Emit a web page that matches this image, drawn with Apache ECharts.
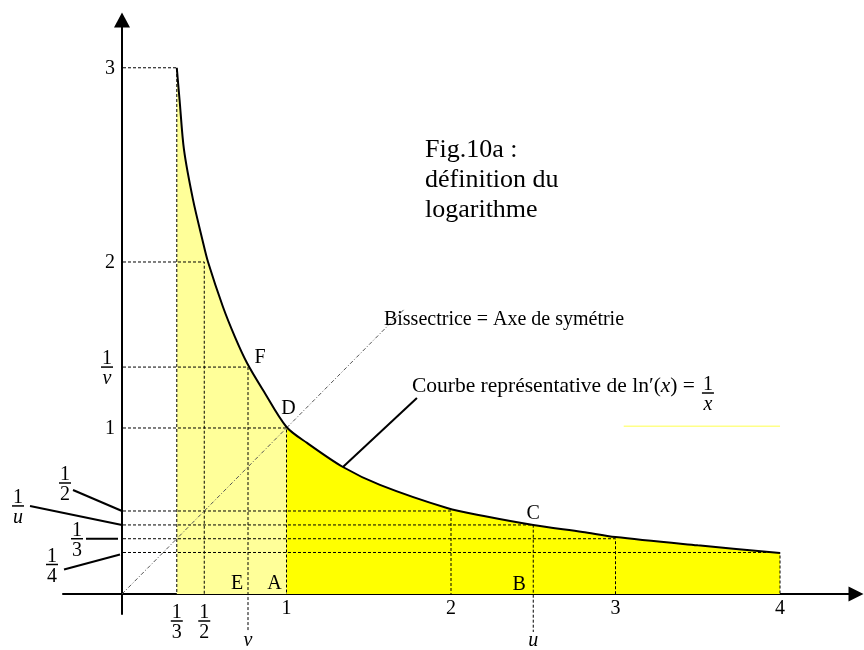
<!DOCTYPE html>
<html>
<head>
<meta charset="utf-8">
<title>Fig.10a : définition du logarithme</title>
<script src="https://cdn.jsdelivr.net/npm/echarts@6/dist/echarts.min.js"></script>
<style>
    html, body { margin: 0; padding: 0; background: #fff; }
    #chart { width: 864px; height: 650px; }
</style>
</head>
<body>
<div id="chart"></div>
<script>
// curve y = 1/x as drawn in the figure
const curveX = [0.333, 0.35, 0.377, 0.432, 0.489, 0.523, 0.614, 0.687, 0.76, 0.857, 1, 1.125, 1.343, 1.568, 1.976, 2.2, 2.5, 2.8, 3, 3.5, 4];
const curveY = [3.17, 2.976, 2.675, 2.374, 2.133, 2.0, 1.729, 1.548, 1.392, 1.229, 1.006, 0.91, 0.765, 0.657, 0.518, 0.47, 0.416, 0.374, 0.343, 0.293, 0.247];

// dashed guide corners (x on the axis, matching y on the curve)
const guideX = [0.333, 0.5, 0.766, 1, 2, 2.5, 3, 4];
const guideY = [3.17, 2.0, 1.367, 1.0, 0.5, 0.416, 0.333, 0.25];

// axis labels
const xTickValues = [0.333, 0.5, 0.766, 1, 2, 2.5, 3, 4];
const xTickLabels = ['1/3', '1/2', 'v', '1', '2', 'u', '3', '4'];
const yTickValues = [3.17, 2.0, 1.367, 1.0];
const yTickLabels = ['3', '2', '1/v', '1'];
const yCalloutValues = [0.5, 0.416, 0.333, 0.25];
const yCalloutLabels = ['1/2', '1/u', '1/3', '1/4'];

// named points
const pointNames = ['F', 'D', 'C', 'E', 'A', 'B'];
const pointX = [0.766, 1, 2.5, 0.766, 1, 2.5];
const pointY = [1.367, 1.0, 0.416, 0, 0, 0];

// bisector y = x and the stray yellow stroke
const bisectorX = [0, 1.72];
const yellowX = [3.05, 4];
const yellowY = [1.01, 1.01];

const SERIF = '"Liberation Serif", "Times New Roman", serif';

function txt(text, x, y, align, vAlign, size, italic) {
    return {
        type: 'text',
        style: {
            text: text, x: x, y: y,
            textAlign: align, textVerticalAlign: vAlign,
            font: (italic ? 'italic ' : '') + size + 'px ' + SERIF,
            fill: '#000'
        }
    };
}

// stacked fraction centred on (cx, cy) = middle of the bar
function frac(label, cx, cy) {
    const parts = label.split('/');
    const italicDen = /[a-z]/.test(parts[1]);
    return {
        type: 'group',
        children: [
            txt(parts[0], cx, cy + 2, 'center', 'bottom', 20, false),
            { type: 'line', shape: { x1: cx - 6, y1: cy, x2: cx + 6, y2: cy }, style: { stroke: '#000', lineWidth: 1.5 } },
            txt(parts[1], cx, cy + 2, 'center', 'top', 20, italicDen)
        ]
    };
}

function seg(x1, y1, x2, y2, w) {
    return { type: 'line', shape: { x1: x1, y1: y1, x2: x2, y2: y2 }, style: { stroke: '#000', lineWidth: w || 2 } };
}

const chart = echarts.init(document.getElementById('chart'));

const curve = curveX.map((x, i) => [x, curveY[i]]);
const leftPart = curve.filter(d => d[0] <= 1);
const rightPart = curve.filter(d => d[0] >= 1);

// layout of the callout labels left of the y axis: [barDx, barDy, leadStartDx, leadStartDy, leadEndDx, leadEndDy]
const calloutLayout = [
    [-57, -28, -49, -21, 0, 0],
    [-104, -19, -92, -19, 0, 0],
    [-45, 0, -36, 0, -4, 0],
    [-70, 12, -58, 17, -2, 2]
];
// text offsets of the named points: [dx, dy]
const pointLayout = [[12, -9], [2, -19], [0, -11], [-11, -10], [-12, -10], [-14, -9]];

const option = {
    animation: false,
    grid: { left: 63, top: 20, width: 793, height: 594 },
    xAxis: {
        type: 'value', min: -0.3587, max: 4.462,
        axisLine: { onZero: true, lineStyle: { color: '#000', width: 2 }, symbol: ['none', 'triangle'], symbolSize: [15, 15] },
        axisTick: { show: false }, axisLabel: { show: false }, splitLine: { show: false }
    },
    yAxis: {
        type: 'value', min: -0.1205, max: 3.4578,
        axisLine: { onZero: true, lineStyle: { color: '#000', width: 2 }, symbol: ['none', 'triangle'], symbolSize: [16, 15] },
        axisTick: { show: false }, axisLabel: { show: false }, splitLine: { show: false }
    },
    graphic: [
        txt('Fig.10a :', 425, 150, 'left', 'middle', 26, false),
        txt('définition du', 425, 180, 'left', 'middle', 26, false),
        txt('logarithme', 425, 210, 'left', 'middle', 26, false)
    ],
    series: [
        {
            name: 'aire 1/3-1', type: 'line', z: 1, data: leftPart, smooth: 0.3,
            showSymbol: false, silent: true, lineStyle: { opacity: 0 },
            areaStyle: { color: '#ffff99', opacity: 1 }
        },
        {
            name: 'aire 1-4', type: 'line', z: 1, data: rightPart, smooth: 0.3,
            showSymbol: false, silent: true, lineStyle: { opacity: 0 },
            areaStyle: { color: '#ffff00', opacity: 1 }
        },
        {
            name: 'repères', type: 'custom', z: 2, silent: true,
            data: guideX.map((x, i) => [x, guideY[i]]),
            renderItem: function (params, api) {
                const i = params.dataIndex;
                const axisPt = api.coord([0, api.value(1)]);
                const corner = api.coord([api.value(0), api.value(1)]);
                const foot = api.coord([api.value(0), 0]);
                const below = /[a-z]/.test(xTickLabels[i]) ? 38 : 0;
                return {
                    type: 'polyline',
                    shape: { points: [[axisPt[0] + 1, axisPt[1]], corner, [foot[0], foot[1] + below]] },
                    style: { stroke: '#000', lineWidth: 1, lineDash: [3, 2], fill: null }
                };
            }
        },
        {
            name: 'bissectrice', type: 'line', z: 3, data: bisectorX.map(v => [v, v]),
            showSymbol: false, silent: true,
            lineStyle: { color: '#555', width: 1, type: [4, 2, 1, 2] }
        },
        {
            name: 'trait jaune', type: 'line', z: 3, data: yellowX.map((x, i) => [x, yellowY[i]]),
            showSymbol: false, silent: true,
            lineStyle: { color: '#ffff88', width: 1.5 }
        },
        {
            name: '1/x', type: 'line', z: 4, data: curve, smooth: 0.3,
            showSymbol: false, silent: true,
            lineStyle: { color: '#000', width: 2 }
        },
        {
            name: 'graduations x', type: 'custom', z: 6, silent: true,
            data: xTickValues.map(v => [v, 0]),
            renderItem: function (params, api) {
                const label = xTickLabels[params.dataIndex];
                const p = api.coord([api.value(0), 0]);
                if (label.indexOf('/') >= 0) return frac(label, p[0], p[1] + 27);
                if (/[a-z]/.test(label)) return txt(label, p[0], p[1] + 47, 'center', 'middle', 20, true);
                return txt(label, p[0], p[1] + 15, 'center', 'middle', 20, false);
            }
        },
        {
            name: 'graduations y', type: 'custom', z: 6, silent: true,
            data: yTickValues.map(v => [0, v]),
            renderItem: function (params, api) {
                const label = yTickLabels[params.dataIndex];
                const p = api.coord([0, api.value(1)]);
                if (label.indexOf('/') >= 0) return frac(label, p[0] - 15, p[1]);
                return txt(label, p[0] - 7, p[1] + 1, 'right', 'middle', 20, false);
            }
        },
        {
            name: 'renvois y', type: 'custom', z: 6, silent: true,
            data: yCalloutValues.map(v => [0, v]),
            renderItem: function (params, api) {
                const i = params.dataIndex;
                const L = calloutLayout[i];
                const p = api.coord([0, api.value(1)]);
                return {
                    type: 'group',
                    children: [
                        seg(p[0] + L[2], p[1] + L[3], p[0] + L[4], p[1] + L[5], 2),
                        frac(yCalloutLabels[i], p[0] + L[0], p[1] + L[1])
                    ]
                };
            }
        },
        {
            name: 'points', type: 'custom', z: 6, silent: true,
            data: pointX.map((x, i) => [x, pointY[i]]),
            renderItem: function (params, api) {
                const i = params.dataIndex;
                const p = api.coord([api.value(0), api.value(1)]);
                return txt(pointNames[i], p[0] + pointLayout[i][0], p[1] + pointLayout[i][1], 'center', 'middle', 20, false);
            }
        },
        {
            name: 'légendes', type: 'custom', z: 6, silent: true,
            data: [[bisectorX[1], bisectorX[1]], [curveX[12], curveY[12]]],
            renderItem: function (params, api) {
                const p = api.coord([api.value(0), api.value(1)]);
                if (params.dataIndex === 0) {
                    return txt('Bissectrice = Axe de symétrie', p[0] - 21, p[1] + 11, 'left', 'middle', 20, false);
                }
                return {
                    type: 'group',
                    children: [
                        seg(p[0], p[1], p[0] + 74, p[1] - 69, 2),
                        {
                            type: 'text',
                            style: {
                                x: p[0] + 69, y: p[1] - 81, textAlign: 'left', textVerticalAlign: 'middle',
                                text: '{r|Courbe représentative de ln′(}{i|x}{r|) =}',
                                rich: {
                                    r: { fontFamily: SERIF, fontSize: 21.5, fill: '#000' },
                                    i: { fontFamily: SERIF, fontSize: 21.5, fontStyle: 'italic', fill: '#000' }
                                }
                            }
                        },
                        frac('1/x', p[0] + 365, p[1] - 74)
                    ]
                };
            }
        }
    ]
};

chart.setOption(option);
window.addEventListener('resize', () => chart.resize());
</script>
</body>
</html>
